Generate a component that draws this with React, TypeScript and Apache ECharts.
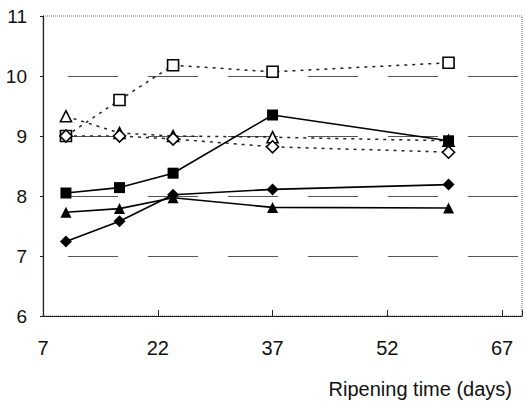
import React, { useEffect, useRef } from "react";
import * as echarts from "echarts";

const days = [10, 17, 24, 37, 60];
const xTicks = [7, 22, 37, 52, 67];
const openSquare = [9.0, 9.6, 10.18, 10.07, 10.22];
const openTriangle = [9.33, 9.05, 9.0, 8.98, 8.92];
const openDiamond = [9.0, 9.0, 8.95, 8.82, 8.73];
const filledSquare = [8.05, 8.14, 8.38, 9.35, 8.92];
const filledTriangle = [7.73, 7.79, 7.97, 7.81, 7.8];
const filledDiamond = [7.24, 7.58, 8.02, 8.11, 8.19];

const FONT = "Liberation Sans, Arial, sans-serif";

function pairs(vals: number[]) {
  return days.map((d, i) => [d, vals[i]]);
}

export default function App() {
  const ref = useRef<HTMLDivElement>(null);
  useEffect(() => {
    const chart = echarts.init(ref.current!, null, { renderer: "svg" });
    const hollow = (name: string, vals: number[], symbol: string, size: number) => ({
      name,
      type: "line",
      data: pairs(vals),
      symbol,
      symbolSize: size,
      showAllSymbol: true,
      lineStyle: { color: "#222", width: 1.5, type: [3, 5] },
      itemStyle: { color: "#fff", borderColor: "#000", borderWidth: 1.6 },
      z: 2,
    });
    const filled = (name: string, vals: number[], symbol: string, size: number) => ({
      name,
      type: "line",
      data: pairs(vals),
      symbol,
      symbolSize: size,
      lineStyle: { color: "#000", width: 1.6, type: "solid" },
      itemStyle: { color: "#000", borderColor: "#000", borderWidth: 0 },
      z: 3,
    });
    chart.setOption({
      animation: false,
      backgroundColor: "#fff",
      textStyle: { fontFamily: FONT },
      grid: {
        left: 43,
        top: 16,
        right: 4,
        bottom: 89,
        show: true,
        borderColor: "#666",
        borderWidth: 1,
        borderType: "dotted",
        backgroundColor: "transparent",
      },
      xAxis: {
        type: "value",
        min: 7,
        max: 69.6,
        interval: 15,
        name: "Ripening time (days)",
        nameLocation: "end",
        nameGap: -10,
        nameTextStyle: {
          fontFamily: FONT,
          fontSize: 20,
          color: "#111",
          align: "right",
          verticalAlign: "top",
          padding: [63, 0, 0, 0],
        },
        axisLine: { show: true, lineStyle: { color: "#222", width: 1.2 } },
        axisTick: { show: true, inside: true, length: 6, lineStyle: { color: "#222" } },
        axisLabel: {
          fontFamily: FONT,
          fontSize: 20,
          color: "#111",
          margin: 22,
          formatter: (v: number) => (xTicks.includes(v) ? String(v) : ""),
        },
        splitLine: { show: false },
      },
      yAxis: {
        type: "value",
        min: 6,
        max: 11,
        interval: 1,
        axisLine: { show: true, lineStyle: { color: "#222", width: 1.2 } },
        axisTick: { show: true, inside: false, length: 3, lineStyle: { color: "#222" } },
        axisLabel: { fontFamily: FONT, fontSize: 19, color: "#111", margin: 16 },
        splitLine: {
          show: true,
          showMinLine: false,
          showMaxLine: false,
          lineStyle: { color: "#555", width: 1, type: [50, 30], dashOffset: -25 },
        },
      },
      series: [
        hollow("openSquare", openSquare, "rect", 11),
        hollow("openTriangle", openTriangle, "triangle", 11),
        hollow("openDiamond", openDiamond, "diamond", 12),
        filled("filledSquare", filledSquare, "rect", 11),
        filled("filledTriangle", filledTriangle, "triangle", 11),
        filled("filledDiamond", filledDiamond, "diamond", 12),
      ],
    });
    return () => chart.dispose();
  }, []);
  return <div ref={ref} style={{ width: 526, height: 405, position: "absolute", left: 0, top: 0 }} />;
}
